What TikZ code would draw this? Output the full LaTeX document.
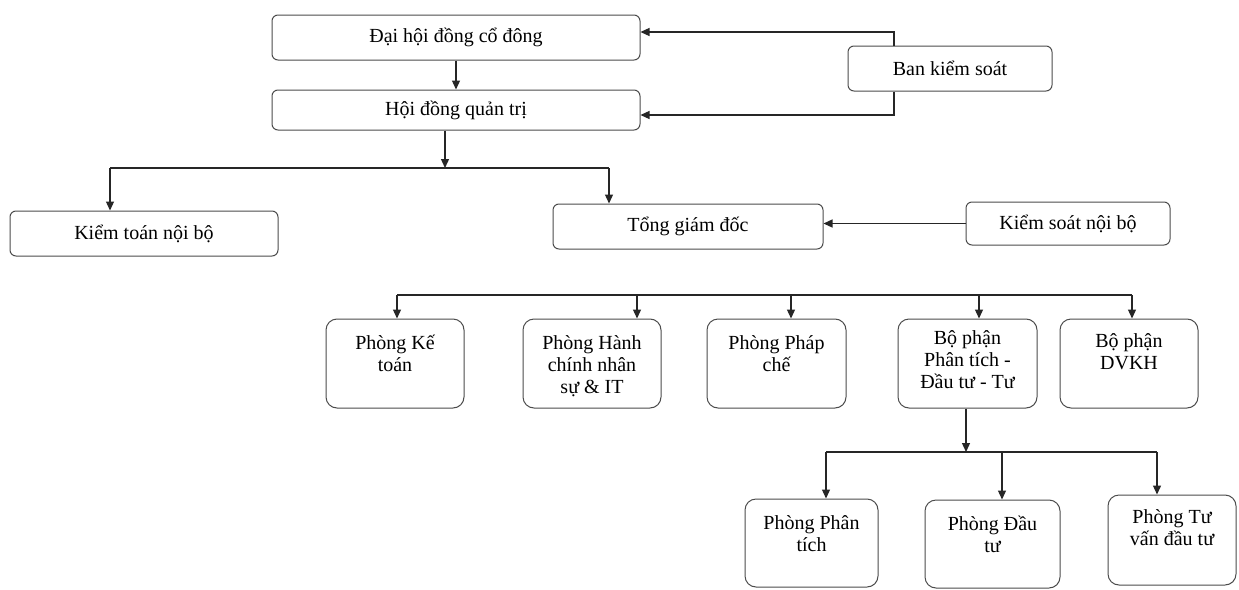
\documentclass[tikz,border=0pt]{standalone}
\usepackage{fontspec}
\setmainfont{Liberation Serif}
\usetikzlibrary{arrows.meta,calc}
\tikzset{
  box/.style={draw=black!70, line width=1pt, rounded corners=6pt, inner sep=0pt,
    font=\fontsize{20}{22}\selectfont, align=center},
  tall/.style={box, rounded corners=11pt},
  ln/.style={draw=black!85, line width=1.3pt},
  arr/.style={ln, -{Triangle[length=9pt,width=8pt]}},
}
\newcommand\mytall[4]{\parbox[c][#1pt][t]{#2pt}{\centering\rule{0pt}{#3pt}#4}}
\begin{document}
\begin{tikzpicture}[x=1pt,y=-1pt]
\useasboundingbox[fill=white] (0,0) rectangle (1239,589);
% top level
\node[box, minimum width=368pt, minimum height=45pt] (dhd) at (456,37.5) {Đại hội đồng cổ đông};
\node[box, minimum width=368pt, minimum height=40pt] (hdqt) at (456,110) {Hội đồng quản trị};
\node[box, minimum width=204pt, minimum height=45pt] (bks) at (950,68.5) {Ban kiểm soát};
\node[box, minimum width=268pt, minimum height=45pt] (ktnb) at (144,233.5) {Kiểm toán nội bộ};
\node[box, minimum width=270pt, minimum height=45pt] (tgd) at (688,226.5) {Tổng giám đốc};
\node[box, minimum width=204pt, minimum height=43pt] (ksnb) at (1068,223.5) {Kiểm soát nội bộ};
% row 3
\node[tall, minimum width=138pt] (kt) at (395,363.5) {\mytall{89}{134}{30}{Phòng Kế\\toán}};
\node[tall, minimum width=138pt] (hc) at (592,363.5) {\mytall{89}{134}{30}{Phòng Hành\\chính nhân\\sự \& IT}};
\node[tall, minimum width=139pt] (pc) at (776.5,363.5) {\mytall{89}{134}{30}{Phòng Pháp\\chế}};
\node[tall, minimum width=139pt] (bp) at (967.5,363.5) {\mytall{89}{134}{25}{Bộ phận\\Phân tích -\\Đầu tư - Tư}};
\node[tall, minimum width=138pt] (dv) at (1129,363.5) {\mytall{89}{134}{28}{Bộ phận\\DVKH}};
% row 4
\node[tall, minimum width=133pt] (pp) at (811.5,543) {\mytall{88}{129}{30}{Phòng Phân\\tích}};
\node[tall, minimum width=135pt] (pd) at (992.5,544) {\mytall{88}{131}{30}{Phòng Đầu\\tư}};
\node[tall, minimum width=128pt] (ptv) at (1172,540) {\mytall{90}{124}{28}{Phòng Tư\\vấn đầu tư}};
% connectors top
\draw[arr] (dhd.south) -- (hdqt.north);
\draw[arr] ([xshift=-56pt]bks.north) |- ([yshift=5.5pt]dhd.east);
\draw[arr] ([xshift=-56pt]bks.south) |- ([yshift=-5pt]hdqt.east);
% bus 1
\coordinate (b1m) at (445,168);
\coordinate (b1l) at (110,168);
\coordinate (b1r) at (609,168);
\draw[arr] ([xshift=-11pt]hdqt.south) -- (b1m);
\draw[ln] (b1l) -- (b1r);
\draw[arr] (b1l) -- (b1l |- ktnb.north);
\draw[arr] (b1r) -- (b1r |- tgd.north);
\draw[arr] (ksnb.west) -- (tgd.east |- ksnb.west);
% bus 2
\coordinate (t1) at (397,295);
\coordinate (t2) at (637,295);
\coordinate (t3) at (791,295);
\coordinate (t4) at (979,295);
\coordinate (t5) at (1132,295);
\draw[ln] (t1) -- (t5);
\draw[arr] (t1) -- (t1 |- kt.north);
\draw[arr] (t2) -- (t2 |- hc.north);
\draw[arr] (t3) -- (t3 |- pc.north);
\draw[arr] (t4) -- (t4 |- bp.north);
\draw[arr] (t5) -- (t5 |- dv.north);
% bus 3
\coordinate (u0) at (966,452);
\coordinate (u1) at (826,452);
\coordinate (u2) at (1002,452);
\coordinate (u3) at (1157,452);
\draw[arr] (bp.south -| u0) -- (u0);
\draw[ln] (u1) -- (u3);
\draw[arr] (u1) -- (u1 |- pp.north);
\draw[arr] (u2) -- (u2 |- pd.north);
\draw[arr] (u3) -- (u3 |- ptv.north);
\end{tikzpicture}
\end{document}
